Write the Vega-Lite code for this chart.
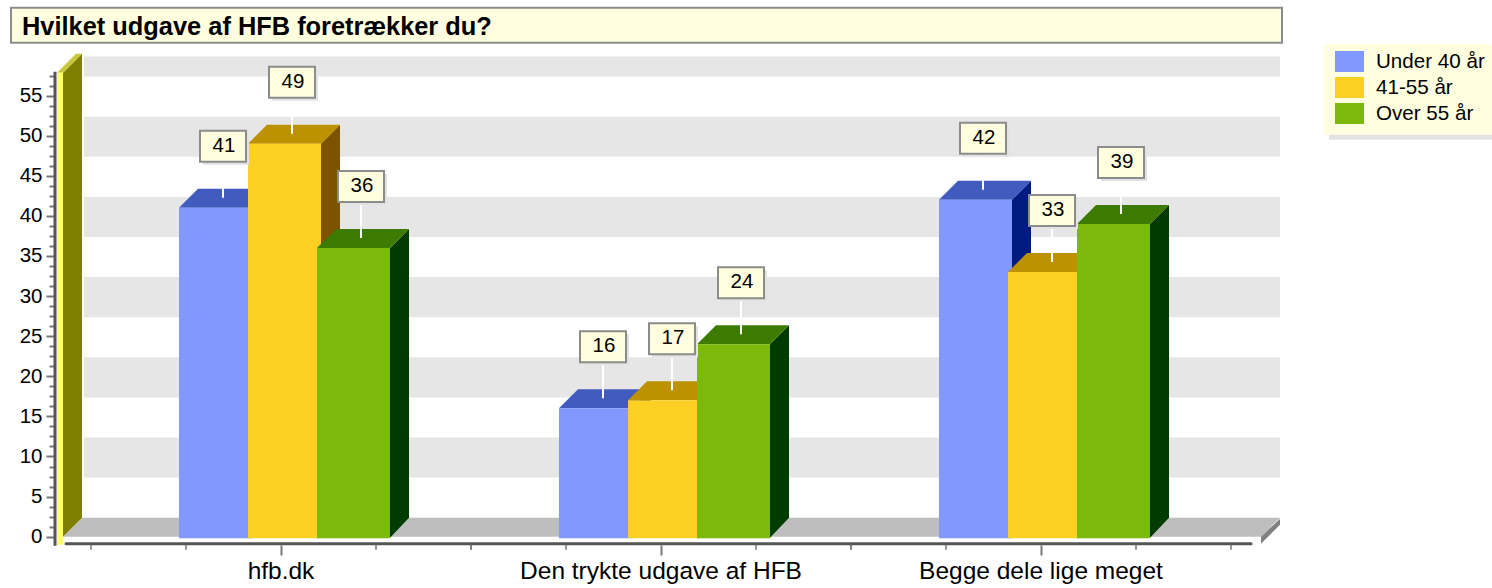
{
"$schema":"https://vega.github.io/schema/vega-lite/v6.json",
"width":1492,"height":588,"padding":0,"autosize":"none","background":"white",
"config":{"view":{"stroke":null},"font":"Liberation Sans"},
"title":{"text":"Hvilket udgave af HFB foretrækker du?","anchor":"start","frame":"group","offset":-40,"dx":22,"font":"Liberation Sans","fontSize":25.4,"fontWeight":"bold","color":"#000000"},
"datasets":{
"svar":[
{"kategori":"hfb.dk","alder":"Under 40 år","andel":41},
{"kategori":"hfb.dk","alder":"41-55 år","andel":49},
{"kategori":"hfb.dk","alder":"Over 55 år","andel":36},
{"kategori":"Den trykte udgave af HFB","alder":"Under 40 år","andel":16},
{"kategori":"Den trykte udgave af HFB","alder":"41-55 år","andel":17},
{"kategori":"Den trykte udgave af HFB","alder":"Over 55 år","andel":24},
{"kategori":"Begge dele lige meget","alder":"Under 40 år","andel":42},
{"kategori":"Begge dele lige meget","alder":"41-55 år","andel":33},
{"kategori":"Begge dele lige meget","alder":"Over 55 år","andel":39}],
"forste":[{"kategori":"hfb.dk","andel":0}],
"kat":[{"kategori":"hfb.dk","andel":0},{"kategori":"Den trykte udgave af HFB","andel":0},{"kategori":"Begge dele lige meget","andel":0}],
"baand":[{"fra":5,"til":10},{"fra":15,"til":20},{"fra":25,"til":30},{"fra":35,"til":40},{"fra":45,"til":50},{"fra":55,"til":57.5}]
},
"encoding":{
"x":{"field":"kategori","type":"nominal","sort":null,"axis":{"orient":"bottom","offset":-43,"domain":false,"grid":false,"title":null,"labelAngle":0,"tickSize":10,"tickWidth":2,"tickColor":"#777777","labelFontSize":24.5,"labelColor":"#000000","labelPadding":4,"labelFont":"Liberation Sans","labelLimit":400},"scale":{"type":"band","domain":["hfb.dk","Den trykte udgave af HFB","Begge dele lige meget"],"range":[91,1231],"paddingInner":0,"paddingOuter":0}},
"y":{"field":"andel","type":"quantitative","axis":null,"scale":{"domain":[-6.4,66.92],"range":[588,0],"nice":false,"zero":false}}
},
"layer":[
{"data":{"name":"baand"},"mark":{"type":"bar","width":1196,"xOffset":21,"yOffset":-19,"y2Offset":-19,"color":"#E6E6E6"},
 "encoding":{"x":{"datum":"Den trykte udgave af HFB"},"y":{"field":"fra","type":"quantitative","axis":null},"y2":{"field":"til"}}},
{"data":{"name":"forste"},"layer":[
 {"mark":{"type":"point","shape":"M-218,0L-199,-19L999,-19L980,0Z","size":4,"filled":true,"opacity":1,"color":"#BEBEBE"}},
 {"mark":{"type":"point","shape":"M980,0L999,-18L999,-12L980,7Z","size":4,"filled":true,"opacity":1,"color":"#808080"}},
 {"mark":{"type":"point","shape":"M-218,0L-218,-464L-199,-483L-199,-19Z","size":4,"filled":true,"opacity":1,"color":"#808000"}},
 {"mark":{"type":"point","shape":"M-224,-464L-218,-464L-199,-483L-205,-483Z","size":4,"filled":true,"opacity":1,"color":"#C8C83C"}},
 {"mark":{"type":"point","shape":"M-224,-464L-218,-464L-218,8L-224,8Z","size":4,"filled":true,"opacity":1,"color":"#FFFF70"}},
 {"mark":{"type":"point","shape":"M-270,-529H1001V-494H-270Z","size":4,"filled":true,"opacity":1,"color":"#FFFFE0","stroke":"#8C8C8C","strokeWidth":2}},
 {"mark":{"type":"point","shape":"M1048,-487H1211V-397H1048Z","size":4,"filled":true,"opacity":1,"color":"#E2E2E2"}},
 {"mark":{"type":"point","shape":"M1043,-492H1211V-402H1043Z","size":4,"filled":true,"opacity":1,"color":"#FFFFE0"}},
 {"mark":{"type":"point","shape":"M-226,-465V9","size":4,"filled":false,"opacity":1,"stroke":"#555555","strokeWidth":3}},
 {"mark":{"type":"point","shape":"M-215,7H970","size":4,"filled":false,"opacity":1,"stroke":"#555555","strokeWidth":3,"strokeCap":"round"}}
]},
{"data":{"name":"kat"},
 "mark":{"type":"point","shape":"M-190,8V13M-95,8V13M95,8V13M190,8V13","size":4,"filled":false,"opacity":1,"stroke":"#777777","strokeWidth":1.5}},
{"data":{"name":"kat"},"mark":{"type":"point","opacity":0},
 "encoding":{"y":{"field":"andel","type":"quantitative","axis":{"orient":"left","offset":-55,"values":[0,5,10,15,20,25,30,35,40,45,50,55],"domain":false,"grid":false,"title":null,"tickSize":9,"tickWidth":2,"tickColor":"#777777","labelFontSize":20.5,"labelColor":"#000000","labelPadding":4,"labelFont":"Liberation Sans"}}}},
{"data":{"name":"kat"},"mark":{"type":"point","opacity":0},
 "encoding":{"y":{"field":"andel","type":"quantitative","axis":{"orient":"left","offset":-55,"values":[1.25,2.5,3.75,6.25,7.5,8.75,11.25,12.5,13.75,16.25,17.5,18.75,21.25,22.5,23.75,26.25,27.5,28.75,31.25,32.5,33.75,36.25,37.5,38.75,41.25,42.5,43.75,46.25,47.5,48.75,51.25,52.5,53.75,56.25,57.5],"domain":false,"grid":false,"title":null,"labels":false,"tickSize":6,"tickWidth":2,"tickColor":"#777777"}}}},
{"data":{"name":"svar"},"transform":[{"filter":"datum.alder === 'Under 40 år'"}],
 "layer":[
 {"mark":{"type":"bar","width":19,"color":"#001B80"},"encoding":{"y2":{"datum":2.37},"xOffset":{"field":"alder","type":"nominal","scale":{"type":"point","padding":0,"domain":["Under 40 år","41-55 år","Over 55 år"],"range":[170.5,308.5]}}}},
 {"encoding":{"xOffset":{"field":"alder","type":"nominal","scale":{"type":"point","padding":0,"domain":["Under 40 år","41-55 år","Over 55 år"],"range":[124.5,262.5]}}},"layer":[
 {"mark":{"type":"point","shape":"M36.5,0L55.5,-19V1.5H36.5Z","size":4,"filled":true,"opacity":1,"color":"#001B80"}},
 {"mark":{"type":"point","shape":"M36.5,-20.5H55.5V-19L36.5,1Z","size":4,"filled":true,"opacity":1,"color":"#001B80"},"encoding":{"y":{"datum":0,"type":"quantitative","axis":null}}},
 {"mark":{"type":"point","shape":"M-36.5,0H36.5L55.5,-19H-17.5Z","size":4,"filled":true,"opacity":1,"color":"#425BBF"}},
 {"mark":{"type":"bar","width":73},"encoding":{"y2":{"datum":-0.2},"color":{"field":"alder","type":"nominal","scale":{"domain":["Under 40 år","41-55 år","Over 55 år"],"range":["#8199FF","#FBD023","#7BB90D"]},"legend":{"title":null,"orient":"none","legendX":1324,"legendY":44,"fillColor":"#FFFFE0","padding":3,"symbolType":"M-0.448,-0.724H1.552V0.724H-0.448Z","symbolSize":841,"symbolOpacity":1,"symbolStrokeWidth":0,"symbolOffset":0,"labelFontSize":20.6,"labelColor":"#000000","labelFont":"Liberation Sans","labelOffset":20,"rowPadding":0,"labelLimit":200}}}}
 ]}],
 "resolve":{"scale":{"xOffset":"independent"}}},
{"data":{"name":"svar"},"transform":[{"filter":"datum.alder === '41-55 år'"}],
 "layer":[
 {"mark":{"type":"bar","width":19,"color":"#7D5300"},"encoding":{"y2":{"datum":2.37},"xOffset":{"field":"alder","type":"nominal","scale":{"type":"point","padding":0,"domain":["Under 40 år","41-55 år","Over 55 år"],"range":[170.5,308.5]}}}},
 {"encoding":{"xOffset":{"field":"alder","type":"nominal","scale":{"type":"point","padding":0,"domain":["Under 40 år","41-55 år","Over 55 år"],"range":[124.5,262.5]}}},"layer":[
 {"mark":{"type":"point","shape":"M36.5,0L55.5,-19V1.5H36.5Z","size":4,"filled":true,"opacity":1,"color":"#7D5300"}},
 {"mark":{"type":"point","shape":"M36.5,-20.5H55.5V-19L36.5,1Z","size":4,"filled":true,"opacity":1,"color":"#7D5300"},"encoding":{"y":{"datum":0,"type":"quantitative","axis":null}}},
 {"mark":{"type":"point","shape":"M-36.5,0H36.5L55.5,-19H-17.5Z","size":4,"filled":true,"opacity":1,"color":"#BC9200"}},
 {"mark":{"type":"bar","width":73},"encoding":{"y2":{"datum":-0.2},"color":{"field":"alder","type":"nominal","scale":{"domain":["Under 40 år","41-55 år","Over 55 år"],"range":["#8199FF","#FBD023","#7BB90D"]}}}}
 ]}],
 "resolve":{"scale":{"xOffset":"independent"}}},
{"data":{"name":"svar"},"transform":[{"filter":"datum.alder === 'Over 55 år'"}],
 "layer":[
 {"mark":{"type":"bar","width":19,"color":"#003B00"},"encoding":{"y2":{"datum":2.37},"xOffset":{"field":"alder","type":"nominal","scale":{"type":"point","padding":0,"domain":["Under 40 år","41-55 år","Over 55 år"],"range":[170.5,308.5]}}}},
 {"encoding":{"xOffset":{"field":"alder","type":"nominal","scale":{"type":"point","padding":0,"domain":["Under 40 år","41-55 år","Over 55 år"],"range":[124.5,262.5]}}},"layer":[
 {"mark":{"type":"point","shape":"M36.5,0L55.5,-19V1.5H36.5Z","size":4,"filled":true,"opacity":1,"color":"#003B00"}},
 {"mark":{"type":"point","shape":"M36.5,-20.5H55.5V-19L36.5,1Z","size":4,"filled":true,"opacity":1,"color":"#003B00"},"encoding":{"y":{"datum":0,"type":"quantitative","axis":null}}},
 {"mark":{"type":"point","shape":"M-36.5,0H36.5L55.5,-19H-17.5Z","size":4,"filled":true,"opacity":1,"color":"#3D7B00"}},
 {"mark":{"type":"bar","width":73},"encoding":{"y2":{"datum":-0.2},"color":{"field":"alder","type":"nominal","scale":{"domain":["Under 40 år","41-55 år","Over 55 år"],"range":["#8199FF","#FBD023","#7BB90D"]}}}}
 ]}],
 "resolve":{"scale":{"xOffset":"independent"}}},
{"data":{"name":"svar"},
 "encoding":{"xOffset":{"field":"alder","type":"nominal","scale":{"type":"point","padding":0,"domain":["Under 40 år","41-55 år","Over 55 år"],"range":[124.5,262.5]}}},
 "layer":[
 {"mark":{"type":"point","shape":"M7.5,-46V-10","size":4,"filled":false,"opacity":1,"stroke":"#FFFFFF","strokeWidth":2}},
 {"mark":{"type":"point","shape":"M-12.5,-74H33.5V-43H-12.5Z","size":4,"filled":true,"opacity":1,"color":"#E2E2E2"}},
 {"mark":{"type":"point","shape":"M-15.5,-77H30.5V-46H-15.5Z","size":4,"filled":true,"opacity":1,"color":"#FFFFE0","stroke":"#8C8C8C","strokeWidth":2}},
 {"mark":{"type":"text","fontSize":20.5,"font":"Liberation Sans","color":"#000000","dx":8.5,"dy":-62,"baseline":"middle","align":"center"},"encoding":{"text":{"field":"andel","type":"quantitative"}}}
 ]}
],
"resolve":{"axis":{"y":"independent"}}
}
